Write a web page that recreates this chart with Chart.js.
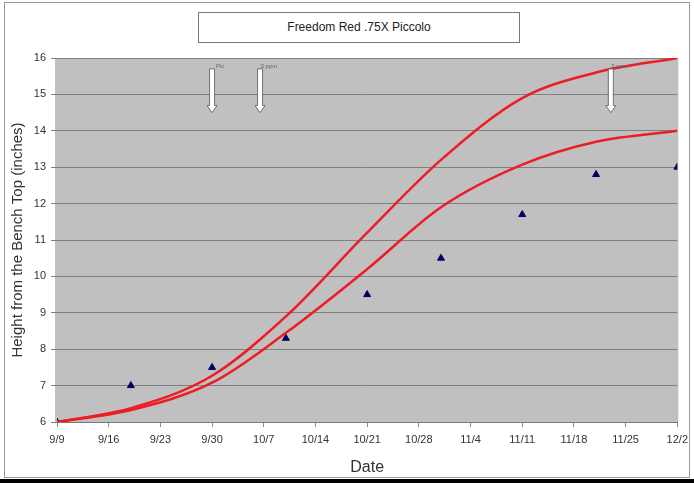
<!DOCTYPE html>
<html>
<head>
<meta charset="utf-8">
<script src="https://cdn.jsdelivr.net/npm/chart.js@4.4.0/dist/chart.umd.min.js"></script>
<style>
  body { margin: 0; background: #fff; }
  .wrap { position: relative; width: 694px; height: 483px; overflow: hidden; }
  .frame { position: absolute; left: 4px; top: 2px; width: 684px; height: 474px; border: 1px solid #999; }
  .bar { position: absolute; left: 0; top: 479px; width: 694px; height: 4px; background: #000; }
  .title {
    position: absolute; left: 198px; top: 12px; width: 320px; height: 29px;
    border: 1px solid #777; background: #fff;
    font: 12px "Liberation Sans", Arial, sans-serif; color: #222;
    text-align: center; line-height: 29px;
  }
  canvas { position: absolute; left: 0; top: 0; }
</style>
</head>
<body>
<div class="wrap">
  <div class="frame"></div>
  <div class="bar"></div>
  <canvas id="growthChart" width="694" height="483"></canvas>
  <div class="title">Freedom Red .75X Piccolo</div>
</div>
<script>
// days after 9/9
const sampleDays = [0, 10, 21, 31, 42, 52, 63, 73, 84];
const measured = [6.0, 7.0, 7.5, 8.3, 9.5, 10.5, 11.7, 12.8, 13.0];
const upperLimit = [6.0, 6.38, 7.27, 8.9, 11.2, 13.2, 14.9, 15.6, 16.0];
const lowerLimit = [6.0, 6.33, 7.08, 8.45, 10.2, 11.9, 13.07, 13.7, 14.0];
const dateLabels = ["9/9", "9/16", "9/23", "9/30", "10/7", "10/14", "10/21", "10/28", "11/4", "11/11", "11/18", "11/25", "12/2"];
const yTicks = [6, 7, 8, 9, 10, 11, 12, 13, 14, 15, 16];

// application arrows (day, label)
const arrowDays = [21, 27.5, 75];
const arrowText = ["Pic", ".3 ppm", ".3 ppm"];

const toPoints = (vals) => sampleDays.map((d, i) => ({ x: d, y: vals[i] }));

const plotBackground = {
  id: "plotBackground",
  beforeDraw(chart) {
    const { ctx, chartArea } = chart;
    ctx.save();
    ctx.fillStyle = "#c0c0c0";
    ctx.fillRect(chartArea.left - 2, chartArea.top, chartArea.right - chartArea.left + 3, chartArea.bottom - chartArea.top);
    ctx.restore();
  },
};

const arrows = {
  id: "arrows",
  afterDatasetsDraw(chart) {
    const { ctx, scales } = chart;
    const top = scales.y.getPixelForValue(15.7);
    const bottom = scales.y.getPixelForValue(14.5);
    ctx.save();
    arrowDays.forEach((d, i) => {
      const x = scales.x.getPixelForValue(d);
      ctx.fillStyle = "#fff";
      ctx.strokeStyle = "#555";
      ctx.lineWidth = 0.8;
      ctx.beginPath();
      ctx.moveTo(x - 2.5, top);
      ctx.lineTo(x + 2.5, top);
      ctx.lineTo(x + 2.5, bottom - 7);
      ctx.lineTo(x + 5, bottom - 7);
      ctx.lineTo(x, bottom);
      ctx.lineTo(x - 5, bottom - 7);
      ctx.lineTo(x - 2.5, bottom - 7);
      ctx.closePath();
      ctx.fill();
      ctx.stroke();
      ctx.fillStyle = "#666";
      ctx.font = "6px 'Liberation Sans', Arial, sans-serif";
      ctx.textAlign = "center";
      ctx.fillText(arrowText[i], x + 8, top - 1);
    });
    ctx.restore();
  },
};

new Chart(document.getElementById("growthChart").getContext("2d"), {
  type: "scatter",
  data: {
    datasets: [
      {
        label: "Upper",
        data: toPoints(upperLimit),
        showLine: true,
        borderColor: "#ee1c24",
        borderWidth: 2.5,
        pointRadius: 0,
        cubicInterpolationMode: "monotone",
      },
      {
        label: "Lower",
        data: toPoints(lowerLimit),
        showLine: true,
        borderColor: "#ee1c24",
        borderWidth: 2.5,
        pointRadius: 0,
        cubicInterpolationMode: "monotone",
      },
      {
        label: "Measured",
        data: toPoints(measured),
        showLine: false,
        pointStyle: "triangle",
        pointRadius: 4,
        backgroundColor: "#000066",
        borderColor: "#000066",
      },
    ],
  },
  options: {
    responsive: false,
    animation: false,
    events: [],
    layout: { padding: { top: 58, right: 11, bottom: 6, left: 0 } },
    plugins: { legend: { display: false }, tooltip: { enabled: false } },
    scales: {
      x: {
        type: "linear",
        min: 0,
        max: 84,
        afterFit: (s) => { s.height = 55; },
        afterBuildTicks: (s) => { s.ticks = dateLabels.map((_, i) => ({ value: i * 7 })); },
        ticks: {
          autoSkip: false,
          maxRotation: 0,
          padding: 6,
          color: "#333",
          font: { family: "'Liberation Sans', Arial, sans-serif", size: 11 },
          callback: (v) => dateLabels[Math.round(v / 7)],
        },
        grid: { drawOnChartArea: false, drawTicks: true, tickLength: 5, color: "#888" },
        border: { color: "#777" },
        title: {
          display: true,
          text: "Date",
          color: "#333",
          padding: { top: 2, bottom: 0 },
          font: { family: "'Liberation Sans', Arial, sans-serif", size: 16 },
        },
      },
      y: {
        min: 6,
        max: 16,
        afterFit: (s) => { s.width = 57; },
        afterBuildTicks: (s) => { s.ticks = yTicks.map((v) => ({ value: v })); },
        ticks: {
          padding: 5,
          color: "#333",
          font: { family: "'Liberation Sans', Arial, sans-serif", size: 11 },
        },
        grid: { color: "#808080", lineWidth: 1, tickLength: 6 },
        border: { display: false },
        title: {
          display: true,
          text: "Height from the Bench Top (inches)",
          color: "#333",
          padding: { top: 9, bottom: 0 },
          font: { family: "'Liberation Sans', Arial, sans-serif", size: 15 },
        },
      },
    },
  },
  plugins: [plotBackground, arrows],
});
</script>
</body>
</html>
